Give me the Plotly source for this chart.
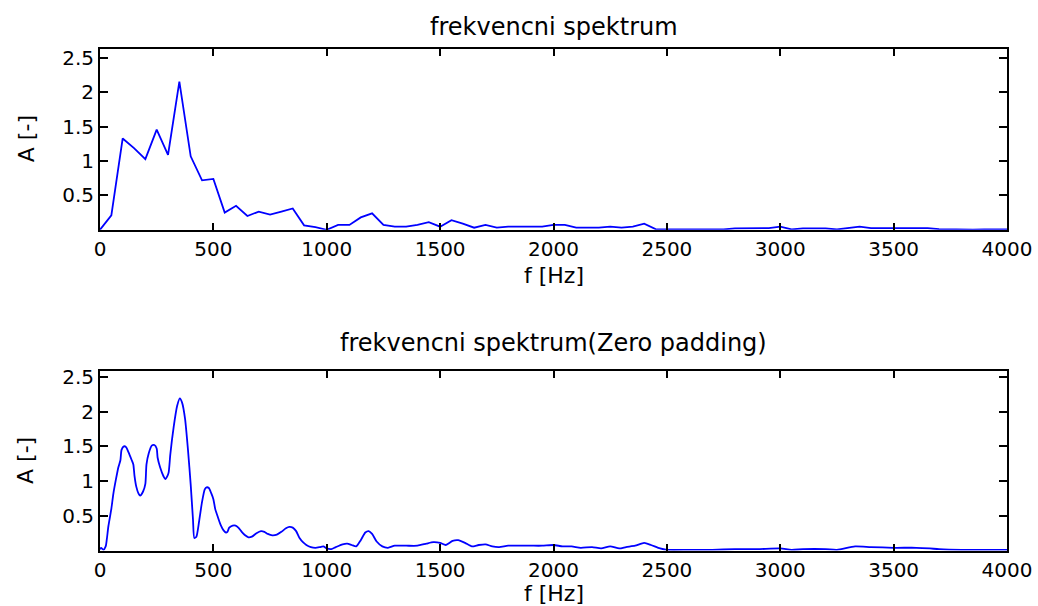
import plotly.graph_objects as go

# Spectrum of the original signal (50 Hz bins)
freq = [0, 50, 100, 150, 200, 250, 300, 350, 400, 450, 500, 550, 600, 650, 700, 750, 800, 850,
        900, 950, 1000, 1050, 1100, 1150, 1200, 1250, 1300, 1350, 1400, 1450, 1500, 1550, 1600,
        1650, 1700, 1750, 1800, 1850, 1900, 1950, 2000, 2050, 2100, 2150, 2200, 2250, 2300, 2350,
        2400, 2450, 2500, 2550, 2600, 2650, 2700, 2750, 2800, 2850, 2900, 2950, 3000, 3050, 3100,
        3150, 3200, 3250, 3300, 3350, 3400, 3450, 3500, 3550, 3600, 3650, 3700, 3750, 3800, 3850,
        3900, 3950, 4000]
amp = [0.0, 0.21, 1.33, 1.19, 1.03, 1.46, 1.09, 2.16, 1.07, 0.72, 0.74, 0.25, 0.35, 0.20, 0.265,
       0.22, 0.265, 0.31, 0.065, 0.04, 0.0, 0.07, 0.07, 0.18, 0.24, 0.07, 0.045, 0.045, 0.07, 0.11,
       0.045, 0.14, 0.09, 0.03, 0.07, 0.03, 0.045, 0.045, 0.045, 0.045, 0.07, 0.07, 0.03, 0.03,
       0.03, 0.045, 0.03, 0.045, 0.09, 0.01, 0.005, 0.005, 0.005, 0.005, 0.005, 0.005, 0.02, 0.025,
       0.025, 0.025, 0.045, 0.005, 0.02, 0.025, 0.02, 0.005, 0.02, 0.045, 0.025, 0.025, 0.025,
       0.025, 0.025, 0.025, 0.01, 0.005, 0.005, 0.0, 0.005, 0.005, 0.005]

# Spectrum after zero padding (finer frequency resolution)
freq_zp = [0, 5, 15, 25, 30, 37, 50, 59, 70, 81, 90, 95, 105, 115, 125, 140, 147, 152, 160, 170,
           177, 190, 200, 205, 215, 228, 240, 250, 254, 265, 280, 288, 298, 303, 310, 325, 340,
           352, 362, 375, 388, 400, 410, 416, 425, 437, 450, 462, 470, 480, 490, 500, 508, 520,
           532, 545, 555, 562, 570, 585, 598, 610, 625, 640, 655, 670, 690, 710, 725, 740, 760,
           780, 800, 820, 835, 850, 865, 880, 895, 910, 930, 950, 970, 985, 1000, 1020, 1040, 1070,
           1090, 1110, 1130, 1150, 1170, 1185, 1200, 1220, 1245, 1270, 1300, 1350, 1400, 1440,
           1470, 1500, 1525, 1555, 1580, 1610, 1640, 1670, 1700, 1730, 1760, 1800, 1850, 1900,
           1950, 2000, 2040, 2080, 2120, 2170, 2210, 2250, 2290, 2320, 2360, 2400, 2430, 2470,
           2500, 2600, 2700, 2800, 2900, 3000, 3050, 3100, 3200, 3250, 3330, 3400, 3500, 3600,
           3660, 3700, 3800, 3900, 4000]
amp_zp = [0.02, 0.04, 0.01, 0.06, 0.16, 0.35, 0.6, 0.82, 1.02, 1.2, 1.3, 1.45, 1.5, 1.49, 1.42,
          1.3, 1.24, 1.08, 0.92, 0.82, 0.79, 0.85, 0.96, 1.24, 1.4, 1.51, 1.52, 1.47, 1.34, 1.2,
          1.07, 1.03, 1.08, 1.13, 1.38, 1.78, 2.08, 2.19, 2.13, 1.9, 1.45, 0.95, 0.45, 0.18, 0.2,
          0.42, 0.7, 0.88, 0.91, 0.9, 0.83, 0.74, 0.6, 0.48, 0.37, 0.29, 0.26, 0.27, 0.33, 0.36,
          0.36, 0.33, 0.27, 0.22, 0.19, 0.2, 0.25, 0.28, 0.27, 0.24, 0.22, 0.23, 0.27, 0.32, 0.34,
          0.33, 0.28, 0.18, 0.12, 0.08, 0.05, 0.04, 0.05, 0.06, 0.03, 0.02, 0.05, 0.09, 0.1, 0.08,
          0.06, 0.15, 0.26, 0.28, 0.24, 0.13, 0.06, 0.04, 0.07, 0.07, 0.07, 0.1, 0.12, 0.11, 0.08,
          0.14, 0.15, 0.11, 0.06, 0.08, 0.09, 0.06, 0.05, 0.07, 0.07, 0.07, 0.07, 0.08, 0.06, 0.06,
          0.04, 0.05, 0.03, 0.06, 0.03, 0.05, 0.07, 0.11, 0.08, 0.03, 0.01, 0.01, 0.01, 0.02, 0.02,
          0.03, 0.01, 0.02, 0.02, 0.01, 0.06, 0.05, 0.04, 0.04, 0.03, 0.02, 0.01, 0.01, 0.01]

x_ticks = [0, 500, 1000, 1500, 2000, 2500, 3000, 3500, 4000]
y_ticks = [0.5, 1, 1.5, 2, 2.5]

titles = ["frekvencni spektrum", "frekvencni spektrum(Zero padding)"]
x_label = "f [Hz]"
y_label = "A [-]"

W, H = 1038, 606
ML, MR = 100, 31
FONT = "DejaVu Sans"
BLUE = "#0000ff"

fig = go.Figure()
fig.add_trace(go.Scatter(x=freq, y=amp, mode="lines",
                         line=dict(color=BLUE, width=1.8), xaxis="x", yaxis="y"))
fig.add_trace(go.Scatter(x=freq_zp, y=amp_zp, mode="lines",
                         line=dict(color=BLUE, width=1.8, shape="spline", smoothing=0.6),
                         xaxis="x2", yaxis="y2"))


def py(px):
    """Pixel row from the top -> paper y."""
    return 1 - px / H


def px_x(px):
    """Pixel column from the left -> paper x."""
    return (px - ML) / (W - ML - MR)


axis_common = dict(showgrid=False, zeroline=False, showline=True, linecolor="black",
                   linewidth=2, mirror="ticks", ticks="inside", tickcolor="black",
                   tickwidth=1.5, tickfont=dict(family=FONT, size=20, color="black"))

fig.update_layout(
    width=W, height=H,
    margin=dict(l=ML, r=MR, t=0, b=0),
    paper_bgcolor="white", plot_bgcolor="white",
    showlegend=False,
    xaxis=dict(domain=[0, 1], range=[0, 4000], tickvals=x_ticks, ticklen=7,
               anchor="y", **axis_common),
    yaxis=dict(domain=[py(226), py(43)], range=[0, 2.64], tickvals=y_ticks, ticklen=8,
               anchor="x", **axis_common),
    xaxis2=dict(domain=[0, 1], range=[0, 4000], tickvals=x_ticks, ticklen=7,
                anchor="y2", **axis_common),
    yaxis2=dict(domain=[py(550), py(369)], range=[0, 2.58], tickvals=y_ticks, ticklen=8,
                anchor="x2", **axis_common),
)

title_font = dict(family=FONT, size=24, color="black")
label_font = dict(family=FONT, size=22, color="black")
for text, y in [(titles[0], 21), (titles[1], 340)]:
    fig.add_annotation(text=text, x=0.5, y=py(y), xref="paper", yref="paper",
                       xanchor="center", yanchor="middle", showarrow=False,
                       font=title_font)
for y in (272, 593):
    fig.add_annotation(text=x_label, x=0.5, y=py(y), xref="paper", yref="paper",
                       xanchor="center", yanchor="middle", showarrow=False,
                       font=label_font)
for y_mid in ((43 + 226) / 2, (369 + 550) / 2):
    fig.add_annotation(text=y_label, x=px_x(26), y=py(y_mid), xref="paper", yref="paper",
                       xanchor="center", yanchor="middle", showarrow=False,
                       textangle=-90, font=label_font)

fig.write_html("out.html")
